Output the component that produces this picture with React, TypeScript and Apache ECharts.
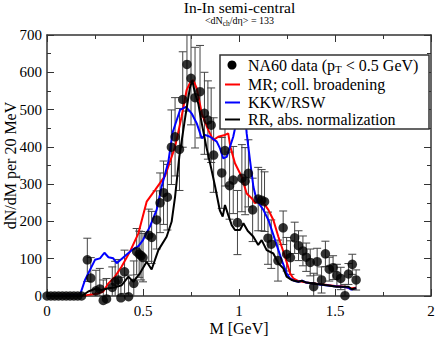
import React, { useEffect, useRef } from "react";
import * as echarts from "echarts";

const FONT = "Liberation Serif";

// NA60 data: zero bins below 0.2 GeV
const zeroMass = [0, 0.02, 0.04, 0.06, 0.08, 0.1, 0.12, 0.14, 0.16, 0.18];
const zeroYield = [0, 0, 0, 0, 0, 0, 0, 0, 0, 0];

const dataMass = [0.21, 0.228, 0.255, 0.275, 0.293, 0.31, 0.34, 0.355, 0.371, 0.385, 0.404, 0.425, 0.452, 0.467, 0.48, 0.49, 0.5, 0.53, 0.545, 0.571, 0.589, 0.607, 0.627, 0.648, 0.667, 0.69, 0.707, 0.729, 0.75, 0.771, 0.797, 0.82, 0.838, 0.855, 0.868, 0.91, 0.927, 0.951, 0.97, 0.992, 1.015, 1.032, 1.049, 1.071, 1.1, 1.118, 1.133, 1.151, 1.168, 1.203, 1.23, 1.248, 1.268, 1.29, 1.31, 1.333, 1.35, 1.371, 1.389, 1.407, 1.43, 1.45, 1.47, 1.49, 1.51, 1.53, 1.552, 1.57, 1.59, 1.61];
const dataYield = [97, 48, 14, 19, -12, -8, 23, 38, 43, -5, 65, -2, 34, 119, 112, 108, 103, 163, 157, 204, 250, 277, 265, 399, 427, 393, 527, 621, 584, 532, 548, 490, 472, 458, 378, 330, 390, 296, 311, 197, 316, 308, 329, 231, 260, 257, 253, 155, 139, 95, 183, 112, 103, 156, 135, 121, 104, 90, 25, 92, 43, 113, 72, 76, 55, 47, 1, 59, 85, 43];
const dataErr = [58, 55, 55, 55, 55, 55, 55, 55, 55, 55, 58, 58, 60, 62, 62, 65, 65, 70, 70, 78, 80, 85, 88, 100, 105, 110, 128, 125, 125, 135, 124, 110, 105, 100, 100, 95, 95, 90, 90, 86, 90, 90, 90, 85, 85, 82, 80, 70, 65, 55, 45, 45, 45, 42, 40, 40, 38, 36, 36, 36, 35, 34, 32, 32, 30, 30, 30, 28, 27, 27];

// Model curves [M, dN/dM]
const mrCurve = [[0, 0], [0.18, 0], [0.215, 3], [0.267, 7], [0.293, 12], [0.32, 34], [0.354, 52], [0.389, 79], [0.432, 119], [0.476, 168], [0.519, 253], [0.5625, 284], [0.615, 322], [0.667, 400], [0.701, 481], [0.727, 552], [0.748, 575], [0.762, 579], [0.78, 557], [0.806, 490], [0.84, 445], [0.866, 418], [0.892, 427], [0.927, 432], [0.944, 436], [0.955, 400], [0.979, 356], [1.014, 320], [1.04, 275], [1.066, 262], [1.083, 249], [1.1, 255], [1.118, 257], [1.153, 231], [1.179, 204], [1.205, 159], [1.24, 105], [1.266, 61], [1.283, 47], [1.31, 40], [1.35, 36], [1.4, 33], [1.45, 30], [1.5, 27], [1.55, 25], [1.58, 20], [1.61, 22]];
const kkwCurve = [[0, 0], [0.172, 3], [0.198, 43], [0.224, 70], [0.25, 97], [0.276, 101], [0.299, 116], [0.32, 104], [0.345, 101], [0.363, 88], [0.406, 107], [0.441, 123], [0.476, 134], [0.5, 150], [0.536, 186], [0.571, 231], [0.597, 293], [0.632, 360], [0.655, 440], [0.693, 499], [0.724, 507], [0.753, 490], [0.78, 463], [0.806, 423], [0.823, 432], [0.849, 427], [0.884, 414], [0.901, 396], [0.918, 369], [0.936, 373], [0.97, 427], [0.996, 490], [1.015, 545], [1.03, 500], [1.04, 436], [1.057, 365], [1.075, 293], [1.092, 257], [1.127, 231], [1.153, 204], [1.188, 150], [1.222, 97], [1.248, 61], [1.266, 47], [1.29, 40], [1.31, 38], [1.33, 41], [1.35, 36], [1.4, 32], [1.45, 29], [1.5, 26], [1.55, 24], [1.57, 22], [1.585, 17], [1.61, 21]];
const rrCurve = [[0, 0], [0.18, 0], [0.215, 12], [0.25, 19], [0.285, 16], [0.32, 21], [0.354, 23], [0.389, 29], [0.424, 52], [0.45, 38], [0.484, 61], [0.519, 92], [0.545, 71], [0.58, 123], [0.623, 159], [0.649, 199], [0.667, 266], [0.689, 373], [0.72, 480], [0.745, 560], [0.757, 578], [0.77, 545], [0.788, 516], [0.806, 463], [0.83, 400], [0.852, 350], [0.875, 295], [0.9, 230], [0.915, 213], [0.927, 244], [0.944, 217], [0.962, 190], [0.979, 177], [1.005, 177], [1.023, 195], [1.045, 175], [1.075, 159], [1.1, 137], [1.118, 150], [1.144, 123], [1.179, 114], [1.205, 88], [1.231, 74], [1.248, 52], [1.274, 43], [1.309, 38], [1.326, 41], [1.352, 36], [1.405, 32], [1.457, 29], [1.509, 25], [1.57, 25], [1.587, 18], [1.61, 21]];

const legendNames = ["NA60 data (p", "MR; coll. broadening", "KKW/RSW", "RR, abs. normalization"];

function measure(text: string, size: number): number {
  const ctx = document.createElement("canvas").getContext("2d");
  if (!ctx) return text.length * size * 0.5;
  ctx.font = `${size}px "${FONT}"`;
  return ctx.measureText(text).width;
}

export default function App() {
  const ref = useRef<HTMLDivElement>(null);
  useEffect(() => {
    document.body.style.margin = "0";
    if (!ref.current) return;
    const chart = echarts.init(ref.current, undefined, { renderer: "svg" });

    const axisColor = "#333";
    const baseX = {
      type: "value",
      min: 0,
      max: 2,
      interval: 0.5,
      axisLine: { show: true, onZero: false, lineStyle: { color: axisColor, width: 1.5 } },
      axisTick: { show: true, inside: true, length: 7, lineStyle: { color: axisColor, width: 1 } },
      minorTick: { show: true, splitNumber: 2, length: 4, lineStyle: { color: axisColor, width: 1 } },
      splitLine: { show: false },
      minorSplitLine: { show: false },
    };
    const baseY = {
      type: "value",
      min: 0,
      max: 700,
      interval: 100,
      axisLine: { show: true, onZero: false, lineStyle: { color: axisColor, width: 1.5 } },
      axisTick: { show: true, inside: true, length: 7, lineStyle: { color: axisColor, width: 1 } },
      minorTick: { show: true, splitNumber: 2, length: 4, lineStyle: { color: axisColor, width: 1 } },
      splitLine: { show: false },
      minorSplitLine: { show: false },
    };

    const errData = dataMass.map((m, i) => [m, dataYield[i] - dataErr[i], dataYield[i] + dataErr[i]]);
    const dotData = zeroMass.map((m, i) => [m, zeroYield[i]]).concat(dataMass.map((m, i) => [m, dataYield[i]]));

    // Subtitle pieces
    const subA = "<dN", subB = "ch", subC = "/d\u03b7> = 133";
    const sFs = 10, sSub = 7.5;
    const wA = measure(subA, sFs), wB = measure(subB, sSub), wC = measure(subC, sFs);
    const sx0 = 239.5 - (wA + wB + wC) / 2;

    // Legend pieces
    const lx = 248;
    const rows = [65, 84.5, 102.5, 119.5];
    const lFs = 16;
    const wP = measure(legendNames[0], lFs);
    const wT = measure("T", 11);

    const txt = (text: string, x: number, y: number, size: number, align = "left", z = 101) => ({
      type: "text",
      x,
      y,
      z,
      style: { text, fontFamily: FONT, fontSize: size, fill: "#000", align, verticalAlign: "middle" },
    });

    chart.setOption({
      animation: false,
      textStyle: { fontFamily: FONT },
      grid: { left: 47, right: 5, top: 35, bottom: 42, containLabel: false, outerBoundsMode: "none" },
      xAxis: [
        {
          ...baseX,
          position: "bottom",
          axisLabel: { show: true, fontFamily: FONT, fontSize: 15, color: "#000", margin: 7 },
          name: "M [GeV]",
          nameLocation: "middle",
          nameGap: 24,
          nameMoveOverlap: false,
          nameTextStyle: { fontFamily: FONT, fontSize: 16, color: "#000" },
        },
        { ...baseX, position: "top", axisLabel: { show: false } },
      ],
      yAxis: [
        {
          ...baseY,
          position: "left",
          axisLabel: { show: true, fontFamily: FONT, fontSize: 15, color: "#000", margin: 5 },
          name: "dN/dM per 20 MeV",
          nameLocation: "middle",
          nameGap: 29,
          nameMoveOverlap: false,
          nameTextStyle: { fontFamily: FONT, fontSize: 16, color: "#000" },
        },
        { ...baseY, position: "right", axisLabel: { show: false } },
      ],
      graphic: [
        txt("In-In semi-central", 239.5, 7.5, 15.5, "center"),
        txt(subA, sx0, 20, sFs),
        txt(subB, sx0 + wA, 23, sSub),
        txt(subC, sx0 + wA + wB, 20, sFs),
        {
          type: "rect",
          z: 100,
          shape: { x: 220, y: 55, width: 209, height: 74 },
          style: { fill: "#fff", stroke: "#333", lineWidth: 1.5 },
        },
        { type: "circle", z: 101, shape: { cx: 232, cy: rows[0], r: 4.5 }, style: { fill: "#000" } },
        { type: "line", z: 101, shape: { x1: 225, y1: rows[1], x2: 240, y2: rows[1] }, style: { stroke: "#ff0000", lineWidth: 2 } },
        { type: "line", z: 101, shape: { x1: 225, y1: rows[2], x2: 240, y2: rows[2] }, style: { stroke: "#0000ff", lineWidth: 2 } },
        { type: "line", z: 101, shape: { x1: 225, y1: rows[3], x2: 240, y2: rows[3] }, style: { stroke: "#000", lineWidth: 2 } },
        txt(legendNames[0], lx, rows[0], lFs),
        txt("T", lx + wP, rows[0] + 4, 11),
        txt(" < 0.5 GeV)", lx + wP + wT, rows[0], lFs),
        txt(legendNames[1], lx, rows[1], lFs),
        txt(legendNames[2], lx, rows[2], lFs),
        txt(legendNames[3], lx, rows[3], lFs),
      ],
      series: [
        {
          type: "custom",
          name: "errors",
          clip: true,
          z: 1,
          data: errData,
          encode: { x: 0, y: [1, 2] },
          renderItem: (params: any, api: any) => {
            const x = api.value(0);
            const p1 = api.coord([x, api.value(1)]);
            const p2 = api.coord([x, api.value(2)]);
            const hw = 4;
            const style = { stroke: "#444", lineWidth: 1 };
            return {
              type: "group",
              children: [
                { type: "line", shape: { x1: p1[0], y1: p1[1], x2: p2[0], y2: p2[1] }, style },
                { type: "line", shape: { x1: p1[0] - hw, y1: p1[1], x2: p1[0] + hw, y2: p1[1] }, style },
                { type: "line", shape: { x1: p2[0] - hw, y1: p2[1], x2: p2[0] + hw, y2: p2[1] }, style },
              ],
            };
          },
        },
        { type: "line", name: "MR", data: mrCurve, showSymbol: false, z: 2, lineStyle: { color: "#ff0000", width: 2 } },
        { type: "line", name: "KKW", data: kkwCurve, showSymbol: false, z: 3, lineStyle: { color: "#0000ff", width: 2 } },
        { type: "line", name: "RR", data: rrCurve, showSymbol: false, z: 4, lineStyle: { color: "#000", width: 2 } },
        { type: "scatter", name: "NA60", data: dotData, symbol: "circle", symbolSize: 9.5, clip: false, z: 5, itemStyle: { color: "#000" } },
      ],
    });
    return () => chart.dispose();
  }, []);
  return <div ref={ref} style={{ position: "absolute", left: 0, top: 0, width: 436, height: 338 }} />;
}
